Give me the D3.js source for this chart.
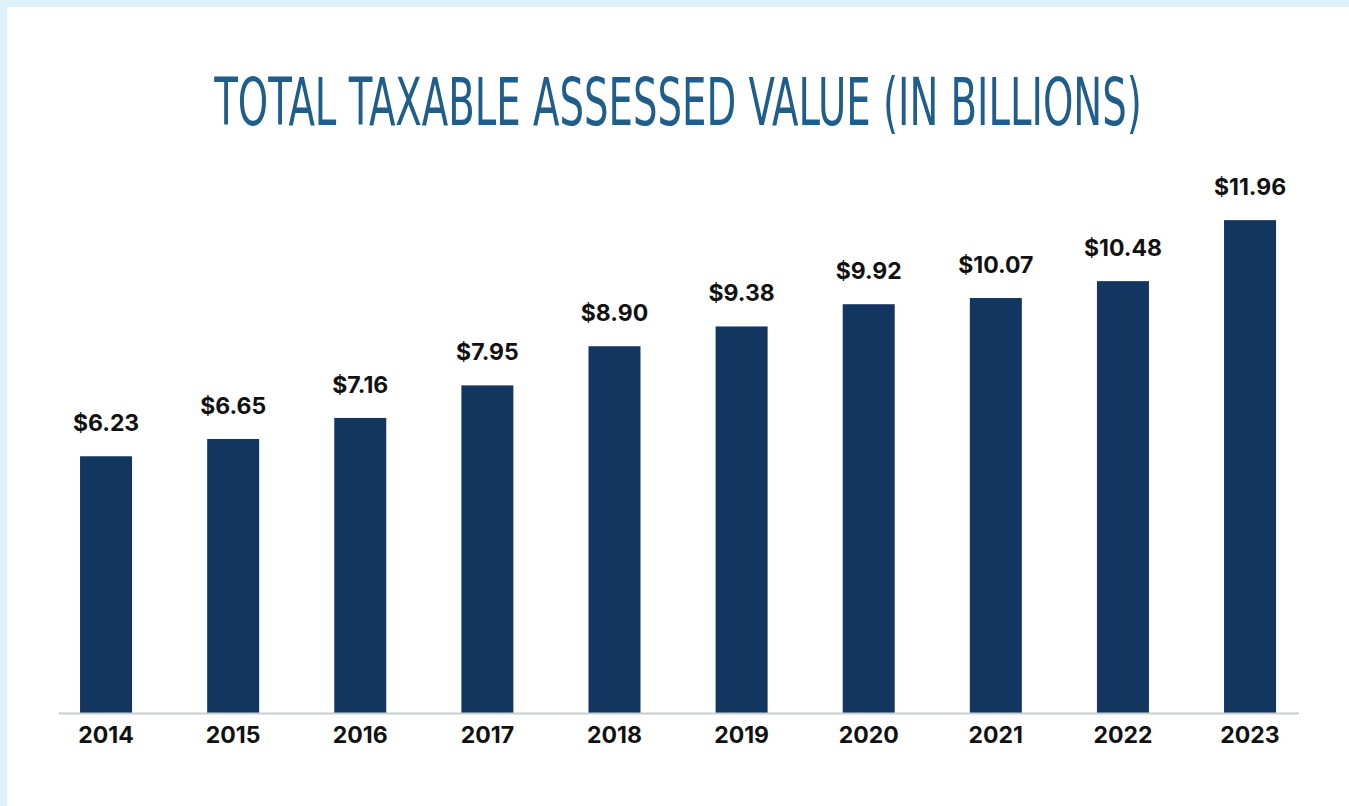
<!DOCTYPE html>
<html>
<head>
<meta charset="utf-8">
<script src="https://cdn.jsdelivr.net/npm/d3@7"></script>
<style>
  html, body { margin: 0; padding: 0; background: #dff2fb; }
  svg { display: block; }
</style>
</head>
<body>
<script>
const title = "TOTAL TAXABLE ASSESSED VALUE (IN BILLIONS)";
const years = ["2014", "2015", "2016", "2017", "2018", "2019", "2020", "2021", "2022", "2023"];
const values = [6.23, 6.65, 7.16, 7.95, 8.90, 9.38, 9.92, 10.07, 10.48, 11.96];
const valueLabels = ["$6.23", "$6.65", "$7.16", "$7.95", "$8.90", "$9.38", "$9.92", "$10.07", "$10.48", "$11.96"];

const W = 1349, H = 806;
const svg = d3.select("body").append("svg").attr("width", W).attr("height", H);

svg.append("rect").attr("x", 0).attr("y", 0).attr("width", W).attr("height", H).attr("fill", "#dff2fb");
svg.append("rect").attr("x", 7).attr("y", 7).attr("width", W - 7).attr("height", H - 7).attr("fill", "#ffffff");

const titleG = svg.append("g");
const titleText = titleG.append("text")
  .attr("x", 0).attr("y", 0)
  .attr("text-anchor", "middle")
  .attr("font-family", "'Liberation Sans Narrow', 'DejaVu Sans Condensed', sans-serif")
  .attr("font-size", 66)
  .attr("fill", "#1f5d8a")
  .text(title);
const tw = titleText.node().getComputedTextLength();
titleG.attr("transform", `translate(678,125) scale(${928 / tw},1)`);

const x = d3.scaleBand().domain(years).range([42.5, 1313.6]).paddingInner(0.59).paddingOuter(0.295);
const y = d3.scaleLinear().domain([0, 12]).range([713, 218.5]);

const baseY = 713;
const barW = 52;

svg.append("g").selectAll("rect").data(years).join("rect")
  .attr("x", d => x(d) + x.bandwidth() / 2 - barW / 2)
  .attr("width", barW)
  .attr("y", (d, i) => y(values[i]))
  .attr("height", (d, i) => y(0) - y(values[i]))
  .attr("fill", "#12365f");

svg.append("line")
  .attr("x1", 59).attr("x2", 1299)
  .attr("y1", baseY + 0.5).attr("y2", baseY + 0.5)
  .attr("stroke", "#c9cdcd").attr("stroke-width", 2);

svg.append("g").selectAll("text").data(years).join("text")
  .attr("x", d => x(d) + x.bandwidth() / 2)
  .attr("y", (d, i) => y(values[i]) - 25)
  .attr("text-anchor", "middle")
  .attr("font-family", "Inter, 'Liberation Sans', sans-serif")
  .attr("font-weight", 700)
  .attr("font-size", 23)
  .attr("fill", "#111111")
  .text((d, i) => valueLabels[i]);

const xAxis = svg.append("g").attr("transform", `translate(0,${baseY})`)
  .call(d3.axisBottom(x).tickSize(0).tickPadding(30));
xAxis.select(".domain").remove();
xAxis.selectAll("text")
  .attr("dy", 0)
  .attr("font-family", "Inter, 'Liberation Sans', sans-serif")
  .attr("font-weight", 700)
  .attr("font-size", 23)
  .attr("fill", "#111111");
</script>
</body>
</html>
